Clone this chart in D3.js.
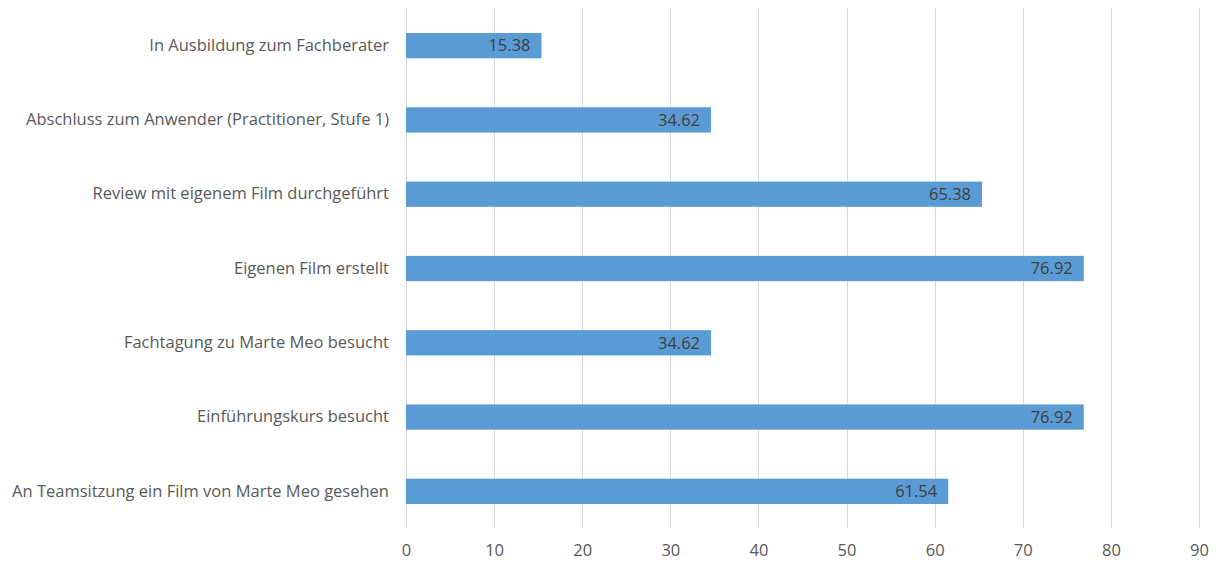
<!DOCTYPE html>
<html>
<head>
<meta charset="utf-8">
<script src="https://cdn.jsdelivr.net/npm/d3@7"></script>
<style>
  body { margin: 0; background: #fff; }
  text { font-family: "Open Sans", sans-serif; }
</style>
</head>
<body>
<div id="chart"></div>
<script>
const width = 1223;
const height = 565;
const margin = {top: 8.5, right: 24, bottom: 36.5, left: 406};
const font = '"Open Sans", sans-serif';
const fontSize = '16.5px';

const categories = [
  'In Ausbildung zum Fachberater',
  'Abschluss zum Anwender (Practitioner, Stufe 1)',
  'Review mit eigenem Film durchgeführt',
  'Eigenen Film erstellt',
  'Fachtagung zu Marte Meo besucht',
  'Einführungskurs besucht',
  'An Teamsitzung ein Film von Marte Meo gesehen'
];
const values = [15.38, 34.62, 65.38, 76.92, 34.62, 76.92, 61.54];
const ticks = [0, 10, 20, 30, 40, 50, 60, 70, 80, 90];

const data = categories.map((c, i) => ({name: c, value: values[i]}));

const x = d3.scaleLinear()
  .domain([0, 90])
  .range([margin.left, width - margin.right]);

const y = d3.scaleBand()
  .domain(categories)
  .range([margin.top, height - margin.bottom])
  .paddingInner(0.66)
  .paddingOuter(0.33);

const svg = d3.select('#chart').append('svg')
  .attr('width', width)
  .attr('height', height);

// vertical gridlines
svg.append('g')
  .selectAll('line').data(ticks).enter().append('line')
  .attr('x1', d => Math.round(x(d)) + 0.5)
  .attr('x2', d => Math.round(x(d)) + 0.5)
  .attr('y1', margin.top - 1)
  .attr('y2', height - margin.bottom)
  .attr('stroke', '#d9d9d9')
  .attr('stroke-width', 1);

// x tick labels
const xAxis = g => g
  .attr('transform', `translate(0, ${height - margin.bottom})`)
  .call(d3.axisBottom(x).tickValues(ticks).tickSize(0).tickPadding(16))
  .call(g => g.select('.domain').remove())
  .call(g => g.selectAll('text')
    .attr('fill', '#595959')
    .style('font-size', fontSize)
    .style('font-family', font));

// y category labels
const yAxis = g => g
  .attr('transform', `translate(${margin.left}, 0)`)
  .call(d3.axisLeft(y).tickSize(0).tickPadding(17))
  .call(g => g.select('.domain').remove())
  .call(g => g.selectAll('text')
    .attr('fill', '#595959')
    .style('font-size', fontSize)
    .style('font-family', font));

svg.append('g').call(xAxis);
svg.append('g').call(yAxis);

// bars
svg.append('g')
  .selectAll('rect').data(data).enter().append('rect')
  .attr('x', x(0))
  .attr('y', d => y(d.name))
  .attr('width', d => x(d.value) - x(0))
  .attr('height', y.bandwidth())
  .attr('fill', '#5b9bd5');

// value labels, inside end
svg.append('g')
  .selectAll('text').data(data).enter().append('text')
  .attr('x', d => x(d.value) - 11)
  .attr('y', d => y(d.name) + y.bandwidth() / 2)
  .attr('dy', '0.35em')
  .attr('text-anchor', 'end')
  .attr('fill', '#404040')
  .style('font-size', fontSize)
  .text(d => d.value.toFixed(2));
</script>
</body>
</html>
